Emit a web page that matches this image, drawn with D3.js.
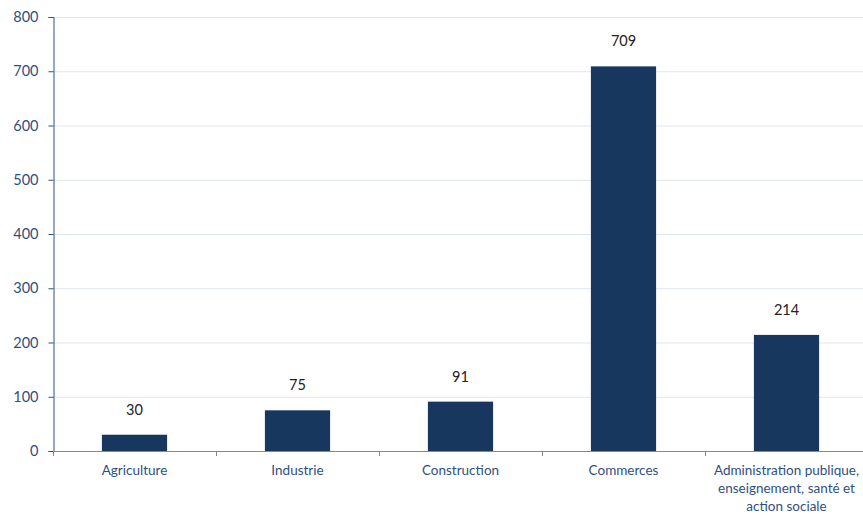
<!DOCTYPE html>
<html>
<head>
<meta charset="utf-8">
<script src="https://cdn.jsdelivr.net/npm/d3@7"></script>
<style>
  body { margin: 0; background: #fff; }
  svg { display: block; font-family: Lato, "Open Sans", sans-serif; }
</style>
</head>
<body>
<div id="chart"></div>
<script>
// categories and values
const categories = [
    'Agriculture',
    'Industrie',
    'Construction',
    'Commerces',
    'Administration publique,|enseignement, santé et|action sociale'
];
const values = [30, 75, 91, 709, 214];
const yTicks = [0, 100, 200, 300, 400, 500, 600, 700, 800];

const width = 863, height = 515;
const margin = { top: 17, right: -5, bottom: 64, left: 53 };

const svg = d3.select('#chart')
    .append('svg')
    .attr('width', width)
    .attr('height', height);

const x = d3.scaleBand()
    .domain(categories)
    .range([margin.left, width - margin.right])
    .paddingInner(0.6)
    .paddingOuter(0.3);

const y = d3.scaleLinear()
    .domain([0, 800])
    .range([height - margin.bottom, margin.top]);

// gridlines
svg.append('g')
    .selectAll('line')
    .data(yTicks.filter(d => d > 0))
    .enter()
    .append('line')
    .attr('x1', margin.left)
    .attr('x2', width)
    .attr('y1', d => y(d) + 0.5)
    .attr('y2', d => y(d) + 0.5)
    .style('stroke', '#dfe5ee')
    .style('stroke-width', 1);

// bars
svg.append('g')
    .selectAll('rect')
    .data(values)
    .enter()
    .append('rect')
    .attr('x', (d, i) => x(categories[i]))
    .attr('y', d => y(d))
    .attr('width', x.bandwidth())
    .attr('height', d => y(0) - y(d))
    .style('fill', '#17375e');

// value labels
svg.append('g')
    .selectAll('text')
    .data(values)
    .enter()
    .append('text')
    .attr('x', (d, i) => x(categories[i]) + x.bandwidth() / 2)
    .attr('y', d => y(d) - 20)
    .attr('text-anchor', 'middle')
    .attr('font-size', '14.5px')
    .attr('fill', '#222')
    .text(d => d);

// y axis
const yAxis = svg.append('g')
    .attr('transform', `translate(${margin.left + 0.5},0)`)
    .call(d3.axisLeft(y).tickValues(yTicks).tickSize(5).tickPadding(10));
yAxis.select('.domain').style('stroke', '#2f5083');
yAxis.selectAll('.tick line').style('stroke', '#2f5083');
yAxis.selectAll('.tick text')
    .attr('font-size', '14.5px')
    .attr('font-family', 'Lato, "Open Sans", sans-serif')
    .attr('fill', '#2f4f7f');

// x axis line and boundary ticks
const step = x.step();
const x0 = margin.left;
svg.append('line')
    .attr('x1', x0)
    .attr('x2', width)
    .attr('y1', y(0) + 0.5)
    .attr('y2', y(0) + 0.5)
    .style('stroke', '#888');
svg.append('g')
    .selectAll('line')
    .data(d3.range(0, categories.length))
    .enter()
    .append('line')
    .attr('x1', d => x0 + d * step + 0.5)
    .attr('x2', d => x0 + d * step + 0.5)
    .attr('y1', y(0))
    .attr('y2', y(0) + 5)
    .style('stroke', '#888');

// category labels
const labels = svg.append('g')
    .selectAll('text')
    .data(categories)
    .enter()
    .append('text')
    .attr('x', d => x(d) + x.bandwidth() / 2)
    .attr('y', y(0) + 24)
    .attr('text-anchor', 'middle')
    .attr('font-size', '13.5px')
    .attr('fill', '#2f4f7f');
labels.selectAll('tspan')
    .data(d => d.split('|'))
    .enter()
    .append('tspan')
    .attr('x', function () { return d3.select(this.parentNode).attr('x'); })
    .attr('dy', (d, i) => i === 0 ? 0 : 18)
    .text(d => d);
</script>
</body>
</html>
